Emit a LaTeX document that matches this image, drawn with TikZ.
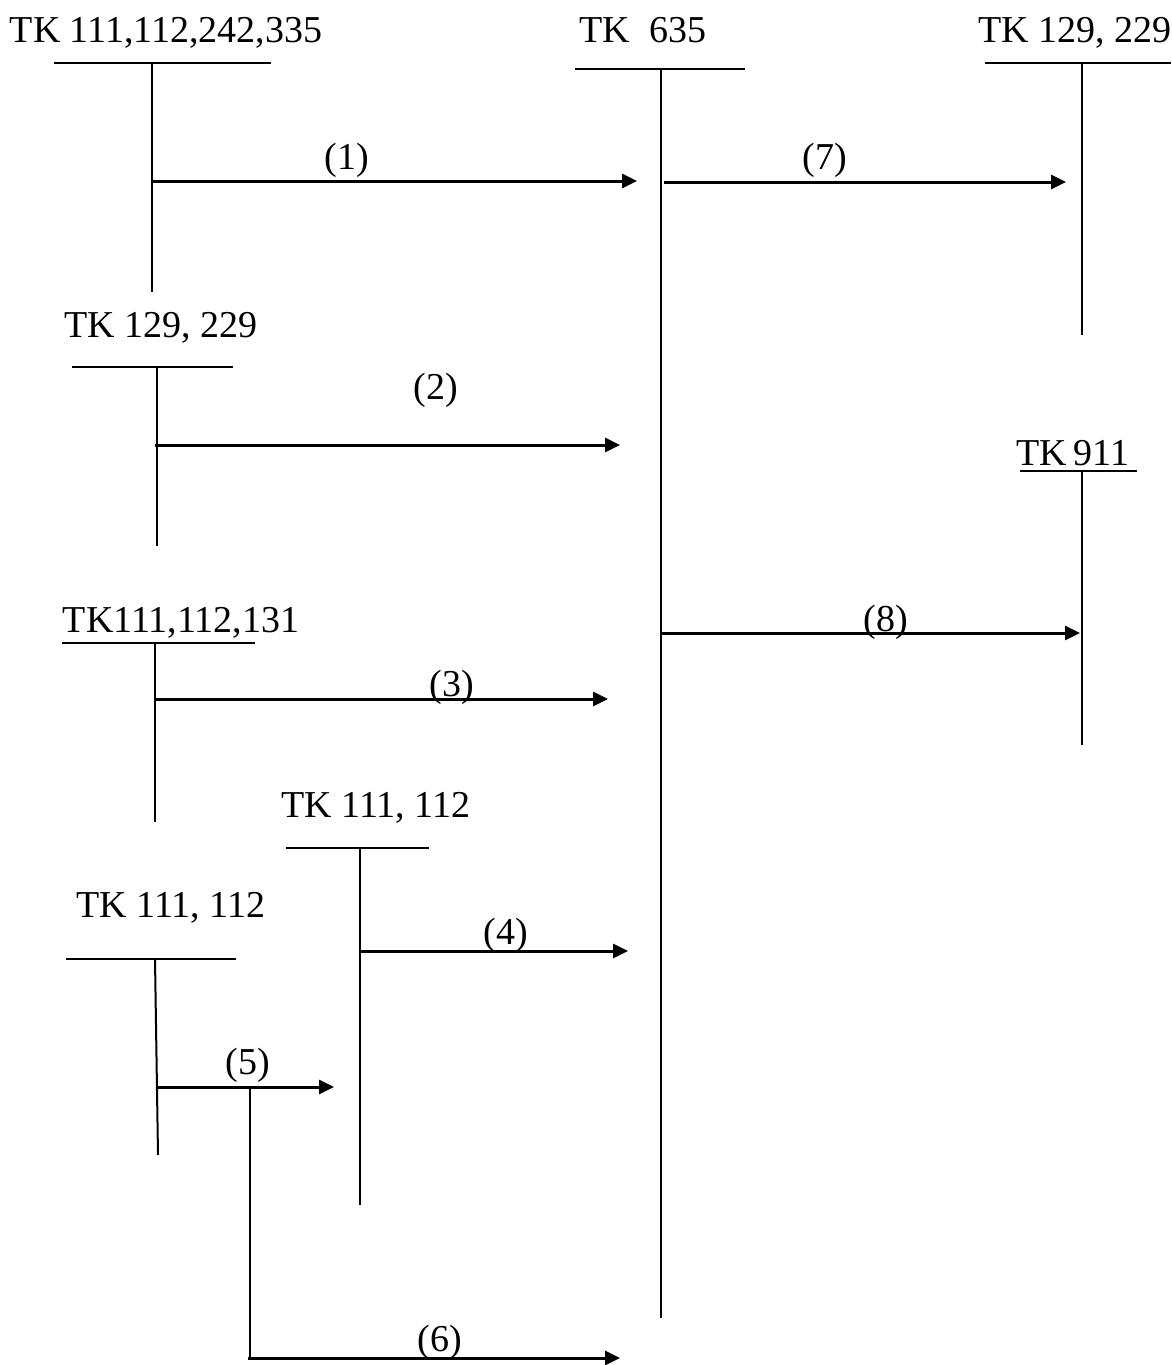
\documentclass[tikz,border=0pt]{standalone}
\usepackage{fontspec}
\setmainfont{Liberation Serif}
\usepackage{tikz}
\usetikzlibrary{arrows.meta,positioning,calc}
\tikzset{
  tklabel/.style={anchor=base,inner sep=0pt,font=\fontsize{38}{45}\selectfont},
  msglabel/.style={anchor=base,inner sep=0pt,font=\fontsize{38}{45}\selectfont},
  headline/.style={line width=2pt},
  lifeline/.style={line width=2pt},
  msg/.style={-{Triangle[length=15pt,width=14pt]},line width=3pt},
}
\begin{document}
\begin{tikzpicture}[x=1pt,y=-1pt]
\useasboundingbox (0,0) rectangle (1171,1365);

% --- TK 111,112,242,335 ---
\node[tklabel] (L1) at (166,42) {TK 111,112,242,335};
\coordinate (h1a) at (54,63); \coordinate (h1b) at (271,63);
\coordinate (v1t) at (152,63); \coordinate (v1b) at (152,292);
\draw[headline] (h1a) -- (h1b);
\draw[lifeline] (v1t) -- (v1b);

% --- TK 635 (centre) ---
\node[tklabel] (L0) at (643,42) {TK\ \ 635};
\coordinate (h0a) at (575,69); \coordinate (h0b) at (745,69);
\coordinate (v0t) at (661,69); \coordinate (v0b) at (661,1318);
\draw[headline] (h0a) -- (h0b);
\draw[lifeline] (v0t) -- (v0b);

% --- TK 129, 229 (right) ---
\node[tklabel] (L7) at (1075,42) {TK 129, 229};
\coordinate (h7a) at (985,63); \coordinate (h7b) at (1171,63);
\coordinate (v7t) at (1082,63); \coordinate (v7b) at (1082,335);
\draw[headline] (h7a) -- (h7b);
\draw[lifeline] (v7t) -- (v7b);

% --- TK 129, 229 (left) ---
\node[tklabel] (L2) at (161,337) {TK 129, 229};
\coordinate (h2a) at (72,367); \coordinate (h2b) at (233,367);
\coordinate (v2t) at (157,367); \coordinate (v2b) at (157,546);
\draw[headline] (h2a) -- (h2b);
\draw[lifeline] (v2t) -- (v2b);

% --- TK 911 ---
\node[tklabel] (L8) at (1073,465) {TK\,911};
\coordinate (h8a) at (1020,471); \coordinate (h8b) at (1137,471);
\coordinate (v8t) at (1082,471); \coordinate (v8b) at (1082,745);
\draw[headline] (h8a) -- (h8b);
\draw[lifeline] (v8t) -- (v8b);

% --- TK111,112,131 ---
\node[tklabel] (L3) at (181,632) {TK111,112,131};
\coordinate (h3a) at (62,643); \coordinate (h3b) at (255,643);
\coordinate (v3t) at (155,643); \coordinate (v3b) at (155,822);
\draw[headline] (h3a) -- (h3b);
\draw[lifeline] (v3t) -- (v3b);

% --- TK 111, 112 (upper) ---
\node[tklabel] (L4) at (376,817) {TK 111, 112};
\coordinate (h4a) at (286,848); \coordinate (h4b) at (429,848);
\coordinate (v4t) at (360,848); \coordinate (v4b) at (360,1205);
\draw[headline] (h4a) -- (h4b);
\draw[lifeline] (v4t) -- (v4b);

% --- TK 111, 112 (lower) ---
\node[tklabel] (L5) at (171,917) {TK 111, 112};
\coordinate (h5a) at (66,959); \coordinate (h5b) at (236,959);
\coordinate (v5t) at (155,959); \coordinate (v5b) at (158,1155);
\draw[headline] (h5a) -- (h5b);
\draw[lifeline] (v5t) -- (v5b);

% --- arrow ends ---
\coordinate (m1s) at (152,181);  \coordinate (m1e) at (637,181);
\coordinate (m7s) at (664,182);  \coordinate (m7e) at (1066,182);
\coordinate (m2s) at (155,445);  \coordinate (m2e) at (620,445);
\coordinate (m8s) at (661,633);  \coordinate (m8e) at (1080,633);
\coordinate (m3s) at (155,699);  \coordinate (m3e) at (608,699);
\coordinate (m4s) at (360,951);  \coordinate (m4e) at (628,951);
\coordinate (m5s) at (157,1087); \coordinate (m5e) at (334,1087);
\coordinate (v6t) at (250,1087); \coordinate (m6s) at (250,1358);
\coordinate (m6e) at (620,1358);

% messages
\draw[msg] (m1s) -- (m1e);
\draw[msg] (m7s) -- (m7e);
\draw[msg] (m2s) -- (m2e);
\draw[msg] (m8s) -- (m8e);
\draw[msg] (m3s) -- (m3e);
\draw[msg] (m4s) -- (m4e);
\draw[msg] (m5s) -- (m5e);
\draw[lifeline] (v6t) -- (m6s);
\draw[msg] ($(m6s)+(-2,0)$) -- (m6e);

% labels
\node[msglabel] (n1) at (347,169) {(1)};
\node[msglabel] (n7) at (825,169) {(7)};
\node[msglabel] (n2) at (436,399) {(2)};
\node[msglabel] (n8) at (886,631) {(8)};
\node[msglabel] (n3) at (452,696) {(3)};
\node[msglabel] (n4) at (506,944) {(4)};
\node[msglabel] (n5) at (248,1074) {(5)};
\node[msglabel] (n6) at (440,1351) {(6)};
\end{tikzpicture}
\end{document}
